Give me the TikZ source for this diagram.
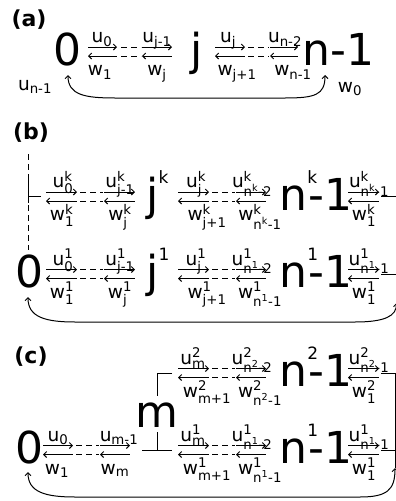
\documentclass[tikz,border=0pt]{standalone}
\usepackage{fontspec}
\setmainfont{DejaVu Sans}
\usepackage{amsmath}
\usetikzlibrary{arrows.meta}
\renewcommand\defaultscriptratio{.72}
\newcommand\UW[3]{$\text{#1}^{\text{#3}}_{\text{#2}}$}
\newcommand\US[2]{$\text{#1}_{\text{#2}}$}
\newcommand\bigsup[2]{#1\raisebox{27pt}{\fontsize{17}{17}\selectfont #2}}
\newcommand\nsup[1]{n\rlap{\raisebox{27pt}{\fontsize{17}{17}\selectfont #1}}\kern1pt-1}
\newcommand\pair[3]{\draw[->] (#1,#3-4.5) -- (#2,#3-4.5); \draw[<-] (#1,#3+4.5) -- (#2,#3+4.5);}
\newcommand\dashes[3]{\draw[dashpat] (#1,#3-4.5) -- (#2,#3-4.5); \draw[dashpat] (#1,#3+4.5) -- (#2,#3+4.5);}
\begin{document}
\begin{tikzpicture}[x=1pt,y=-1pt, line width=1pt,
  big/.style={font=\fontsize{44}{44}\selectfont, inner sep=0pt, anchor=base},
  lab/.style={font=\fontsize{18.5}{18.5}\selectfont, inner sep=0pt, anchor=base},
  ttl/.style={font=\fontsize{22}{22}\selectfont\bfseries, inner sep=0pt},
  dashpat/.style={dash pattern=on 6pt off 4pt, dash phase=-2pt},
  >={Straight Barb[length=3pt,width=6pt]}]
\useasboundingbox[fill=white] (0,0) rectangle (396,501);
% ---------------- (a)
\node[ttl] (ta) at (29,20) {(a)};
\node[big] (a0) at (67,65) {0};
\node[big] (aj) at (197,65) {j};
\node[big,anchor=base west] (an) at (302,65) {n-1};
\pair{88}{117}{51.5}
\dashes{119}{141}{51.5}
\pair{142}{172}{51.5}
\pair{215}{245}{51.5}
\dashes{246}{269}{51.5}
\pair{270}{298}{51.5}
\node[lab] (la1) at (102,42.5) {\US{u}{0}};
\node[lab] (la2) at (157,42.5) {\US{u}{j-1}};
\node[lab] (la3) at (228,42.5) {\US{u}{j}};
\node[lab] (la4) at (285,42.5) {\US{u}{n-2}};
\node[lab] (lb1) at (100,75.5) {\US{w}{1}};
\node[lab] (lb2) at (157,75.5) {\US{w}{j}};
\node[lab] (lb3) at (237,75.5) {\US{w}{j+1}};
\node[lab] (lb4) at (293,75.5) {\US{w}{n-1}};
\node[lab] (lc1) at (35,90) {\US{u}{n-1}};
\node[lab] (lc2) at (350,92) {\US{w}{0}};
\coordinate (ca1) at (68,75);
\coordinate (ca2) at (325,75);
\draw[<->] (ca1) .. controls (68,95) and (85,98) .. (115,98) -- (285,98) .. controls (315,98) and (325,95) .. (ca2);
% ---------------- (b)
\node[ttl] (tb) at (31,133) {(b)};
\draw[dashpat] (28,152) -- (28,178);
\draw (28,178) -- (28,203);
\draw (28,196.5) -- (41,196.5);
\draw[dashpat] (28,203) -- (28,250);
% row k
\pair{46}{77}{196.5}
\dashes{78}{103}{196.5}
\pair{104}{135}{196.5}
\pair{178}{209}{196.5}
\dashes{210}{235}{196.5}
\pair{236}{266}{196.5}
\pair{348}{379}{196.5}
\draw (381,196.5) -- (397,196.5);
\node[big,anchor=base west] (bjk) at (146,210) {\bigsup{j}{k}};
\node[big,anchor=base west] (bnk) at (279,210) {\nsup{k}};
\node[lab] (bu1) at (63,187.5) {\UW{u}{0}{k}};
\node[lab] (bu2) at (120,187.5) {\UW{u}{j-1}{k}};
\node[lab] (bu3) at (196,187.5) {\UW{u}{j}{k}};
\node[lab] (bu4) at (252,187.5) {\UW{u}{n$^{\text{k}}$-2}{k}};
\node[lab] (bu5) at (369,187.5) {\UW{u}{n$^{\text{k}}$-1}{k}};
\node[lab] (bw1) at (62,220.5) {\UW{w}{1}{k}};
\node[lab] (bw2) at (120,220.5) {\UW{w}{j}{k}};
\node[lab] (bw3) at (207,220.5) {\UW{w}{j+1}{k}};
\node[lab] (bw4) at (260,220.5) {\UW{w}{n$^{\text{k}}$-1}{k}};
\node[lab] (bw5) at (364,220.5) {\UW{w}{1}{k}};
% row 1
\node[big] (b0) at (29,287.5) {0};
\pair{46}{77}{274}
\dashes{78}{103}{274}
\pair{104}{135}{274}
\pair{178}{209}{274}
\dashes{210}{235}{274}
\pair{236}{266}{274}
\pair{348}{379}{274}
\draw (381,274) -- (397,274);
\node[big,anchor=base west] (bj1) at (146,287.5) {\bigsup{j}{1}};
\node[big,anchor=base west] (bn1) at (279,287.5) {\nsup{1}};
\node[lab] (bv1) at (63,265) {\UW{u}{0}{1}};
\node[lab] (bv2) at (120,265) {\UW{u}{j-1}{1}};
\node[lab] (bv3) at (196,265) {\UW{u}{j}{1}};
\node[lab] (bv4) at (252,265) {\UW{u}{n$^{\text{1}}$-2}{1}};
\node[lab] (bv5) at (369,265) {\UW{u}{n$^{\text{1}}$-1}{1}};
\node[lab] (bx1) at (62,298) {\UW{w}{1}{1}};
\node[lab] (bx2) at (120,298) {\UW{w}{j}{1}};
\node[lab] (bx3) at (207,298) {\UW{w}{j+1}{1}};
\node[lab] (bx4) at (260,298) {\UW{w}{n$^{\text{1}}$-1}{1}};
\node[lab] (bx5) at (364,298) {\UW{w}{1}{1}};
\coordinate (cb1) at (28,297);
\coordinate (cb2) at (396.5,303);
\draw (396.5,196.5) -- (cb2);
\draw[<->] (cb1) .. controls (28,317) and (45,322) .. (75,322) -- (355,322) .. controls (385,322) and (396.5,316) .. (cb2);
% ---------------- (c)
\node[ttl] (tc) at (31,357) {(c)};
\node[big] (cm) at (157,427) {m};
\draw (172,373) -- (157,373) -- (157,396);
\draw (157,432) -- (157,450);
\draw (142,450) -- (172,450);
% row 2
\pair{178}{209}{373}
\dashes{210}{235}{373}
\pair{236}{266}{373}
\pair{348}{379}{373}
\draw (381,373) -- (395,373);
\node[big,anchor=base west] (cn2) at (279,386.5) {\nsup{2}};
\node[lab] (cu1) at (193,364) {\UW{u}{m}{2}};
\node[lab] (cu2) at (252,364) {\UW{u}{n$^{\text{2}}$-2}{2}};
\node[lab] (cu3) at (369,364) {\UW{u}{n$^{\text{2}}$-1}{2}};
\node[lab] (cw1) at (207,397) {\UW{w}{m+1}{2}};
\node[lab] (cw2) at (260,397) {\UW{w}{n$^{\text{2}}$-1}{2}};
\node[lab] (cw3) at (364,397) {\UW{w}{1}{2}};
% row 1
\node[big] (c0) at (29,463.5) {0};
\pair{43}{73}{450}
\dashes{74}{99}{450}
\pair{100}{130}{450}
\pair{178}{209}{450}
\dashes{210}{235}{450}
\pair{236}{266}{450}
\pair{348}{379}{450}
\draw (381,450) -- (395,450);
\node[big,anchor=base west] (cn1) at (279,463.5) {\nsup{1}};
\node[lab] (cv1) at (58,441) {\US{u}{0}};
\node[lab] (cv2) at (119,441) {\US{u}{m-1}};
\node[lab] (cv3) at (193,441) {\UW{u}{m}{1}};
\node[lab] (cv4) at (252,441) {\UW{u}{n$^{\text{1}}$-2}{1}};
\node[lab] (cv5) at (369,441) {\UW{u}{n$^{\text{1}}$-1}{1}};
\node[lab] (cx1) at (57,474) {\US{w}{1}};
\node[lab] (cx2) at (115,474) {\US{w}{m}};
\node[lab] (cx3) at (207,474) {\UW{w}{m+1}{1}};
\node[lab] (cx4) at (260,474) {\UW{w}{n$^{\text{1}}$-1}{1}};
\node[lab] (cx5) at (364,474) {\UW{w}{1}{1}};
\coordinate (cc1) at (28,472);
\coordinate (cc2) at (395,468);
\draw (395,373) -- (cc2);
\draw[<->] (cc1) .. controls (28,492) and (45,497) .. (75,497) -- (360,497) .. controls (387,497) and (395,490) .. (cc2);
\end{tikzpicture}
\end{document}
